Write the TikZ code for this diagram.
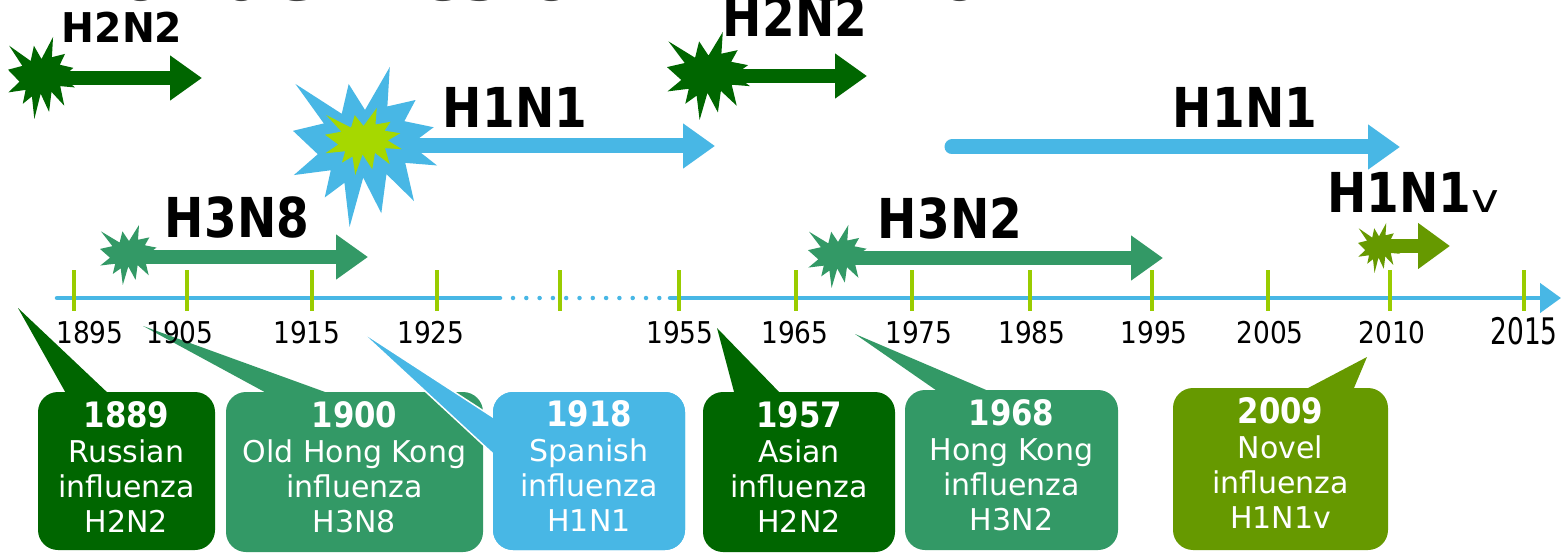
\documentclass[tikz,border=0pt]{standalone}
\usepackage{fontspec}
\usepackage{graphicx}
\setmainfont{DejaVu Sans}
\newfontfamily\tagfont{DejaVu Sans}[FakeStretch=0.855]
\newfontfamily\datefont{DejaVu Sans}[FakeStretch=0.88]
\usetikzlibrary{arrows.meta,calc}

\definecolor{darkflu}{HTML}{006600}
\definecolor{midflu}{HTML}{339966}
\definecolor{skyflu}{HTML}{48B7E5}
\definecolor{oliveflu}{HTML}{669900}
\definecolor{limeflu}{HTML}{99CC00}
\definecolor{burstlime}{HTML}{A6D800}
\definecolor{titlegray}{HTML}{404040}

% explosion burst: left, top, width, height, colour
\newcommand{\burst}[5]{%
  \begin{scope}[shift={(#1,#2)}, xscale=#3/216, yscale=#4/216]
    \fill[#5] (108,58) -- (145.22,0) -- (141.55,53.25) -- (183.8,44.57) -- (167.02,73.15)
      -- (210.97,81.37) -- (176.07,104.75) -- (216,132.9) -- (168.37,129.42) -- (181.45,180.95)
      -- (140.2,144.57) -- (132.47,197.37) -- (105.32,149.35) -- (84.85,216) -- (77.15,156.27)
      -- (47.62,176.17) -- (56.67,139.37) -- (1.35,145.87) -- (37.22,117.75) -- (0,86.15)
      -- (46.27,76.17) -- (3.7,22.95) -- (73.12,63.2) -- (83.52,22.95) -- cycle;
  \end{scope}}

\newcommand{\yearbold}{\datefont\bfseries\fontsize{35}{35}\selectfont}

\tikzset{
  axisline/.style={draw=skyflu, line width=4.5pt, line cap=round},
  yeartick/.style={draw=limeflu, line width=4pt},
  yearlabel/.style={font=\datefont\fontsize{30}{30}\selectfont, anchor=base, inner sep=0pt, text=black},
  tagtext/.style={font=\tagfont\bfseries\fontsize{55}{55}\selectfont, anchor=base, inner sep=0pt, text=black},
  fluarrow/.style={draw=#1, line width=14pt, -{Triangle[length=32pt,width=43pt]}},
  flubox/.style={fill=#1, rounded corners=20pt, inner sep=0pt, draw=none},
  boxtext/.style={text=white, align=center, inner sep=0pt, anchor=north, font=\fontsize{30}{35}\selectfont},
}

\begin{document}
\begin{tikzpicture}[x=1pt, y=-1pt]
\useasboundingbox (0,0) rectangle (1561,556);
\clip (0,0) rectangle (1561,556);
\fill[white] (0,0) rectangle (1561,556);

% heading, mostly above the frame
\node[font=\fontsize{79}{79}\selectfont, text=titlegray, anchor=base west, inner sep=0pt] (title) at (77,0.5) {Pandemics of influenza};

% spread of each subtype
\coordinate (a1s) at (42,78);    \coordinate (a1e) at (202,78);
\coordinate (a2s) at (365,146);  \coordinate (a2e) at (715,146);
\coordinate (a3s) at (708,76);   \coordinate (a3e) at (867,76);
\coordinate (a4s) at (952,147);  \coordinate (a4e) at (1400,147);
\coordinate (a5s) at (129,257);  \coordinate (a5e) at (368,257);
\coordinate (a6s) at (838,258);  \coordinate (a6e) at (1163,258);
\coordinate (a7s) at (1379,246); \coordinate (a7e) at (1450,246);

\draw[fluarrow=darkflu] (a1s) -- (a1e);
\draw[fluarrow=skyflu, line width=15pt] (a2s) -- (a2e);
\draw[fluarrow=darkflu] (a3s) -- (a3e);
\draw[fluarrow=skyflu, line width=15pt, line cap=round] (a4s) -- (a4e);
\draw[fluarrow=midflu, line width=13pt] (a5s) -- (a5e);
\draw[fluarrow=midflu, line width=13pt] (a6s) -- (a6e);
\draw[fluarrow=oliveflu, -{Triangle[length=32pt,width=44pt]}] (a7s) -- (a7e);

% outbreak bursts
\burst{8}{37}{67}{82}{darkflu}
\burst{293}{67}{144}{160}{skyflu}
\burst{325}{108}{77}{67}{burstlime}
\burst{667}{32}{83}{88}{darkflu}
\burst{100}{225}{58}{60}{midflu}
\burst{808}{225}{60}{63}{midflu}
\burst{1358}{223}{42}{50}{oliveflu}

% subtype names
\node[tagtext, font=\tagfont\bfseries\fontsize{41}{41}\selectfont] (n1) at (122,43) {\scalebox{1.12}[1]{H2N2}};
\node[tagtext] (n2) at (515,128) {H1N1};
\node[tagtext] (n3) at (795,37) {H2N2};
\node[tagtext] (n4) at (1245,128) {H1N1};
\node[tagtext] (n5) at (237,237) {H3N8};
\node[tagtext] (n6) at (950,239) {H3N2};
\node[tagtext, anchor=base west] (n7) at (1327,213) {H1N1{\mdseries\fontsize{40}{40}\selectfont\addfontfeature{FakeStretch=1.17}v}};

% time axis
\coordinate (tlA) at (57,298);
\coordinate (tlB) at (500,298);
\coordinate (tlC) at (513,298);
\coordinate (tlD) at (670,298);
\coordinate (tlE) at (1561,298);
\draw[axisline] (tlA) -- (tlB);
\draw[axisline, dash pattern=on 0pt off 13.3pt] (tlC) -- (tlD);
\draw[axisline, -{Triangle[length=21pt,width=29pt]}] (tlD) -- (tlE);
\foreach \x in {74,187,312,437,560,679,796,912,1030,1152,1268,1390,1524}
  \draw[yeartick] (\x,270) -- (\x,311);

% callouts with their pointers
\coordinate (p1) at (18,308);
\coordinate (p2) at (143,326);
\coordinate (p3) at (359,330);
\coordinate (p4) at (717,328);
\coordinate (p5) at (855,334);
\coordinate (p6) at (1367,357);

\node[flubox=darkflu, minimum width=177pt, minimum height=158pt] (b1) at (126.5,471) {};
\node[flubox=midflu, minimum width=257pt, minimum height=160pt] (b2) at (354.5,472) {};
\node[flubox=skyflu, minimum width=192pt, minimum height=158pt] (b3) at (589,471) {};
\node[flubox=darkflu, minimum width=192pt, minimum height=160pt] (b4) at (799,472) {};
\node[flubox=midflu, minimum width=213pt, minimum height=160pt] (b5) at (1011.5,470) {};
\node[flubox=oliveflu, minimum width=215pt, minimum height=162pt] (b6) at (1280.5,469) {};

\fill[darkflu] ($(b1.north west)+(29,3)$) -- (p1) -- ($(b1.north west)+(72,3)$) -- cycle;
\fill[midflu] ($(b2.north west)+(44,3)$) -- (p2) -- ($(b2.north west)+(107,3)$) -- cycle;
\filldraw[fill=skyflu, draw=white, line width=1.5pt, line join=miter] ($(b3.north west)+(12,33)$) -- (p3) -- ($(b3.north west)+(12,73)$) -- cycle;
\node[flubox=skyflu, minimum width=192pt, minimum height=158pt] (b3top) at (b3.center) {};
\fill[darkflu] ($(b4.north west)+(32,3)$) -- (p4) -- ($(b4.north west)+(79,3)$) -- cycle;
\fill[midflu] ($(b5.north west)+(35,3)$) -- (p5) -- ($(b5.north west)+(88,3)$) -- cycle;
\fill[oliveflu] ($(b6.north west)+(130,3)$) -- (p6) -- ($(b6.north west)+(180,3)$) -- cycle;

% year marks
\foreach \x/\yr in {90/1895,180/1905,307/1915,431/1925,680/1955,795/1965,919/1975,1032/1985,1154/1995,1270/2005,1392/2010}
  \node[yearlabel] (y\yr) at (\x,343) {\yr};
\node[yearlabel] (y2015) at (1524,344) {\scalebox{1}[1.22]{2015}};

% callout texts
\node[boxtext] (t1) at ($(b1.center)+(0,-69.5)$) {{\yearbold 1889}\\Russian\\influenza\\H2N2};
\node[boxtext] (t2) at ($(b2.center)+(0,-70.5)$) {{\yearbold 1900}\\Old Hong Kong\\influenza\\H3N8};
\node[boxtext] (t3) at ($(b3.center)+(0,-70.5)$) {{\yearbold 1918}\\Spanish\\influenza\\H1N1};
\node[boxtext] (t4) at ($(b4.center)+(0,-70.5)$) {{\yearbold 1957}\\Asian\\influenza\\H2N2};
\node[boxtext] (t5) at ($(b5.center)+(0,-70.5)$) {{\yearbold 1968}\\Hong Kong\\influenza\\H3N2};
\node[boxtext] (t6) at ($(b6.center)+(0,-71.5)$) {{\yearbold 2009}\\Novel\\influenza\\H1N1v};
\end{tikzpicture}
\end{document}
